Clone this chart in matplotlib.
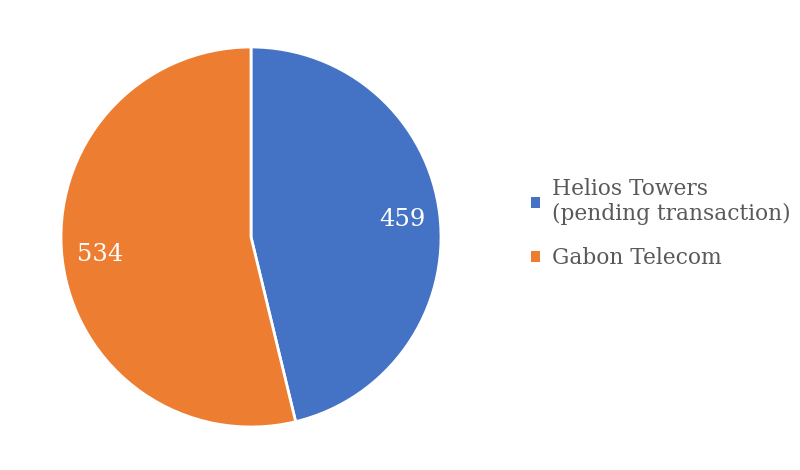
import matplotlib.pyplot as plt

labels = ["Helios Towers\n(pending transaction)", "Gabon Telecom"]
values = [459, 534]
colors = ["#4472C4", "#ED7D31"]

plt.rcParams["font.family"] = ["DejaVu Serif"]

fig = plt.figure(figsize=(8, 4.7), dpi=100)
ax = fig.add_axes([0.07625, 0.0915, 0.475, 0.8085])

wedges, texts, autotexts = ax.pie(
    values, colors=colors, startangle=90, counterclock=False,
    autopct=lambda p: f"{p * sum(values) / 100:.0f}", pctdistance=0.8,
    wedgeprops=dict(edgecolor="white", linewidth=2),
    textprops=dict(color="white", fontsize=17.5),
)
ax.set_xlim(-1.0, 1.0)
ax.set_ylim(-1.0, 1.0)
ax.set_aspect("equal")

leg = fig.legend(
    wedges, labels, loc="center left", bbox_to_anchor=(0.664, 0.525),
    frameon=False, fontsize=15.7, handlelength=0.4, handleheight=0.4,
    handletextpad=0.55, labelspacing=1.0, borderpad=0, borderaxespad=0,
)
for t in leg.get_texts():
    t.set_color("#595959")
for h in leg.legend_handles:
    h.set_edgecolor("none")

fig.savefig("out.png", dpi=100)
